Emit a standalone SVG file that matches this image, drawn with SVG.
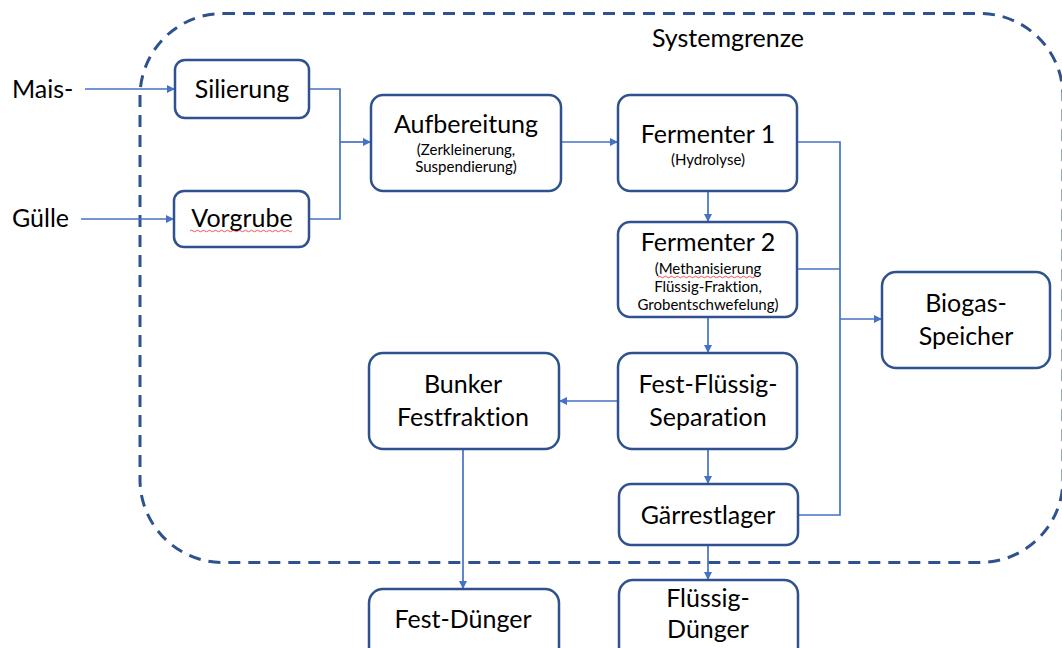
<svg xmlns="http://www.w3.org/2000/svg" width="1062" height="648" viewBox="0 0 1062 648">
  <style>
    .box { fill: #ffffff; stroke: #2F528F; stroke-width: 2.5; }
    text { font-family: Lato, "Liberation Sans", sans-serif; fill: #000000; font-variant-ligatures: none; }
    .big { font-size: 25px; text-anchor: middle; }
    .small { font-size: 15px; text-anchor: middle; }
    .lbl { font-size: 25px; }
    .wire { fill: none; stroke: #4472C4; stroke-width: 1.7; }
    .arr { fill: none; stroke: #4472C4; stroke-width: 1.7; marker-end: url(#head); }
    .squiggle { fill: none; stroke: #E03030; stroke-width: 0.8; }
  </style>
  <defs>
    <marker id="head" viewBox="0 0 10 10" refX="10" refY="5" markerWidth="8" markerHeight="8" markerUnits="userSpaceOnUse" orient="auto">
      <path d="M0,0 L10,5 L0,10 Z" fill="#4472C4"/>
    </marker>
  </defs>

  <rect width="1062" height="648" fill="#ffffff"/>

  <!-- system boundary -->
  <g id="systemgrenze">
    <rect x="140" y="13.5" width="923" height="549" rx="83" ry="83" fill="none" stroke="#2F528F" stroke-width="3" stroke-dasharray="12 8"/>
    <text class="lbl" x="728" y="47" text-anchor="middle">Systemgrenze</text>
  </g>

  <!-- inputs -->
  <g id="input-mais"><text class="lbl" x="12" y="98">Mais-</text></g>
  <g id="input-guelle"><text class="lbl" x="12" y="227">Gülle</text></g>

  <!-- connectors -->
  <g id="connectors">
    <path class="arr" d="M85,89 H175"/>
    <path class="arr" d="M81,219 H174"/>
    <path class="wire" d="M309,89 H340 V219 H309"/>
    <path class="arr" d="M340,142 H371"/>
    <path class="arr" d="M561,142 H618"/>
    <path class="arr" d="M708,191 V222"/>
    <path class="wire" d="M797,142 H840 V515 H798"/>
    <path class="wire" d="M797,269 H840"/>
    <path class="arr" d="M840,319 H882"/>
    <path class="arr" d="M708,317 V353"/>
    <path class="arr" d="M618,401 H559"/>
    <path class="arr" d="M708,449 V484"/>
    <path class="arr" d="M463,449 V589"/>
    <path class="arr" d="M708,545 V580"/>
  </g>

  <!-- nodes -->
  <g id="silierung">
    <rect class="box" x="175" y="60" width="134" height="58" rx="10"/>
    <text class="big" x="242" y="98">Silierung</text>
  </g>
  <g id="vorgrube">
    <rect class="box" x="174" y="191" width="135" height="56" rx="10"/>
    <text class="big" x="242" y="227">Vorgrube</text>
    <path class="squiggle" d="M190,231 q1.5,-1.5 3,0 t3,0 t3,0 t3,0 t3,0 t3,0 t3,0 t3,0 t3,0 t3,0 t3,0 t3,0 t3,0 t3,0 t3,0 t3,0 t3,0 t3,0 t3,0 t3,0 t3,0 t3,0 t3,0 t3,0 t3,0 t3,0 t3,0 t3,0 t3,0 t3,0 t3,0 t3,0 t3,0 t3,0"/>
  </g>
  <g id="aufbereitung">
    <rect class="box" x="371" y="95" width="190" height="96" rx="12"/>
    <text class="big" x="466" y="133">Aufbereitung</text>
    <text class="small" x="466" y="155">(Zerkleinerung,</text>
    <text class="small" x="466" y="172">Suspendierung)</text>
  </g>
  <g id="fermenter1">
    <rect class="box" x="618" y="95" width="179" height="96" rx="12"/>
    <text class="big" x="708" y="143">Fermenter 1</text>
    <text class="small" x="708" y="165">(Hydrolyse)</text>
  </g>
  <g id="fermenter2">
    <rect class="box" x="618" y="222" width="179" height="95" rx="12"/>
    <text class="big" x="708" y="251">Fermenter 2</text>
    <text class="small" x="708" y="274">(Methanisierung</text>
    <text class="small" x="708" y="292">Flüssig-Fraktion,</text>
    <text class="small" x="708" y="310">Grobentschwefelung)</text>
    <path class="squiggle" d="M658,277 q1.5,-1.5 3,0 t3,0 t3,0 t3,0 t3,0 t3,0 t3,0 t3,0 t3,0 t3,0 t3,0 t3,0 t3,0 t3,0 t3,0 t3,0 t3,0 t3,0 t3,0 t3,0 t3,0 t3,0 t3,0 t3,0 t3,0 t3,0 t3,0 t3,0 t3,0 t3,0 t3,0 t3,0 t3,0"/>
  </g>
  <g id="biogas-speicher">
    <rect class="box" x="882" y="272" width="168" height="96" rx="14"/>
    <text class="big" x="966" y="312">Biogas-</text>
    <text class="big" x="966" y="345">Speicher</text>
  </g>
  <g id="bunker-festfraktion">
    <rect class="box" x="369" y="353" width="190" height="96" rx="14"/>
    <text class="big" x="463" y="393">Bunker</text>
    <text class="big" x="463" y="426">Festfraktion</text>
  </g>
  <g id="separation">
    <rect class="box" x="618" y="353" width="179" height="96" rx="14"/>
    <text class="big" x="708" y="393">Fest-Flüssig-</text>
    <text class="big" x="708" y="426">Separation</text>
  </g>
  <g id="gaerrestlager">
    <rect class="box" x="619" y="484" width="179" height="61" rx="12"/>
    <text class="big" x="708" y="524">Gärrestlager</text>
  </g>
  <g id="fest-duenger">
    <rect class="box" x="369" y="589" width="190" height="80" rx="14"/>
    <text class="big" x="463" y="628">Fest-Dünger</text>
  </g>
  <g id="fluessig-duenger">
    <rect class="box" x="619" y="580" width="179" height="90" rx="14"/>
    <text class="big" x="708" y="607">Flüssig-</text>
    <text class="big" x="708" y="638">Dünger</text>
  </g>
</svg>
